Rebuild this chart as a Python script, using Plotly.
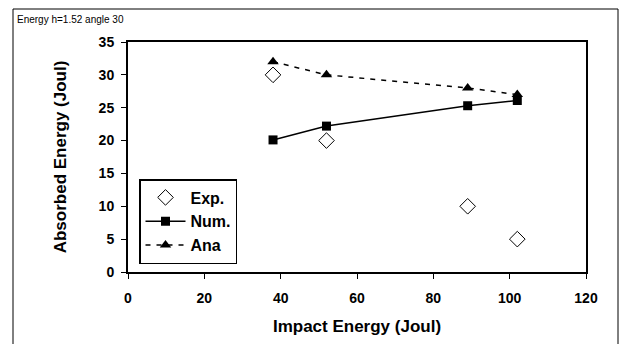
import plotly.graph_objects as go

impact = [38, 52, 89, 102]
exp_vals = [30, 20, 10, 5]
num_vals = [20.1, 22.2, 25.3, 26.1]
ana_vals = [32, 30, 28, 27]

FONT = "Liberation Sans, Arial, sans-serif"

fig = go.Figure()
fig.add_trace(go.Scatter(x=impact, y=exp_vals, mode="markers", name="Exp.",
                         marker=dict(symbol="diamond-open", size=12, color="black",
                                     line=dict(width=1, color="black"))))
fig.add_trace(go.Scatter(x=impact, y=num_vals, mode="lines+markers", name="Num.",
                         line=dict(color="black", width=1.5),
                         marker=dict(symbol="square", size=9, color="black")))
fig.add_trace(go.Scatter(x=impact, y=ana_vals, mode="lines+markers", name="Ana",
                         line=dict(color="black", width=1.5, dash="5px,6px"),
                         marker=dict(symbol="triangle-up", size=10, color="black")))

W, H = 620, 344
L, R, T, B = 128, 34, 42, 72
dw = W - L - R
dh = H - T - B

def px(x):
    return (x - L) / dw

def py(y):
    return (H - B - y) / dh

fig.update_layout(
    width=W, height=H,
    margin=dict(l=L, r=R, t=T, b=B),
    paper_bgcolor="white", plot_bgcolor="white",
    font=dict(family=FONT, color="black"),
    showlegend=True,
    legend=dict(x=px(139), y=py(179), xanchor="left", yanchor="top",
                bgcolor="white", bordercolor="black", borderwidth=1.5,
                font=dict(size=16, family=FONT, weight="bold"),
                itemwidth=40),
    xaxis=dict(range=[0, 120], tickvals=[0, 20, 40, 60, 80, 100, 120],
               showgrid=False, zeroline=False, showline=True, linecolor="black",
               linewidth=2, mirror=True, ticks="outside", ticklen=5,
               tickcolor="black", tickwidth=1, ticklabelstandoff=7,
               tickfont=dict(size=14, family=FONT, weight="bold"),
               title=dict(text="Impact Energy (Joul)", standoff=15,
                          font=dict(size=17, family=FONT, weight="bold"))),
    yaxis=dict(range=[0, 35], tickvals=[0, 5, 10, 15, 20, 25, 30, 35],
               showgrid=False, zeroline=False, showline=True, linecolor="black",
               linewidth=2, mirror=True, ticks="outside", ticklen=5,
               tickcolor="black", tickwidth=1, ticklabelstandoff=4,
               tickfont=dict(size=14, family=FONT, weight="bold"),
               title=dict(text="Absorbed Energy (Joul)", standoff=28,
                          font=dict(size=17, family=FONT, weight="bold"))),
    shapes=[dict(type="rect", xref="paper", yref="paper",
                 x0=px(13), x1=px(618), y0=py(348), y1=py(9),
                 line=dict(color="black", width=1))],
    annotations=[dict(text="Energy h=1.52 angle 30", xref="paper", yref="paper",
                      x=px(15), y=py(12), xanchor="left", yanchor="top",
                      showarrow=False, font=dict(size=10, family=FONT))],
)

fig.write_html("out.html")
